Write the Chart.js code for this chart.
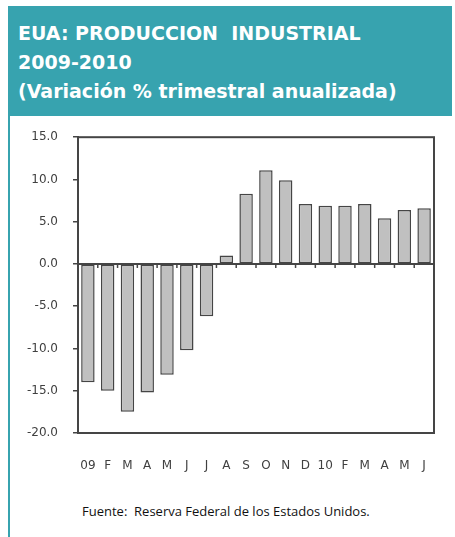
<!DOCTYPE html>
<html lang="es">
<head>
<meta charset="UTF-8">
<title>EUA: Produccion Industrial</title>
<script src="https://cdn.jsdelivr.net/npm/chart.js@4"></script>
<style>
  html, body {
    margin: 0;
    padding: 0;
    width: 455px;
    height: 537px;
    background: #fff;
    overflow: hidden;
  }
  .header {
    position: absolute;
    left: 8px;
    top: 6px;
    width: 444px;
    height: 110px;
    background: #37a3af;
  }
  .header div {
    position: absolute;
    left: 10px;
    color: #fff;
    font-family: "DejaVu Sans", sans-serif;
    font-weight: bold;
    font-size: 19px;
    white-space: pre;
  }
  .side {
    position: absolute;
    left: 8px;
    top: 116px;
    width: 2px;
    height: 421px;
    background: #37a3af;
  }
  .chart-box {
    position: absolute;
    left: 0;
    top: 115px;
    width: 455px;
    height: 375px;
  }
  .fuente {
    position: absolute;
    left: 82px;
    top: 502px;
    font-family: "Open Sans", sans-serif;
    font-size: 13px;
    color: #111;
    white-space: pre;
  }
</style>
</head>
<body>
<div class="header">
  <div style="top: 16px;">EUA: PRODUCCION  INDUSTRIAL</div>
  <div style="top: 45px;">2009-2010</div>
  <div style="top: 74px;">(Variación % trimestral anualizada)</div>
</div>
<div class="side"></div>
<div class="chart-box"><canvas id="chart"></canvas></div>
<div class="fuente">Fuente:  Reserva Federal de los Estados Unidos.</div>

<script>
// datos (variación % trimestral anualizada)
const meses = ['09', 'F', 'M', 'A', 'M', 'J', 'J', 'A', 'S', 'O', 'N', 'D', '10', 'F', 'M', 'A', 'M', 'J'];
const produccion = [-14.0, -15.0, -17.5, -15.2, -13.1, -10.2, -6.2, 1.0, 8.3, 11.1, 9.9, 7.1, 6.9, 6.9, 7.1, 5.4, 6.4, 6.6];
const ejeY = [-20, -15, -10, -5, 0, 5, 10, 15];

const lineColor = '#454545';

// marco del area de grafico y marcas sobre la linea del cero
const marcoPlugin = {
  id: 'marco',
  afterDatasetsDraw(chart) {
    const { ctx, chartArea: a, scales } = chart;
    const x = scales.x;
    const y0 = scales.y.getPixelForValue(0);
    ctx.save();
    ctx.strokeStyle = lineColor;
    ctx.lineWidth = 2;
    ctx.strokeRect(a.left, a.top, a.right - a.left, a.bottom - a.top);
    ctx.beginPath();
    ctx.moveTo(a.left, y0);
    ctx.lineTo(a.right, y0);
    ctx.stroke();
    ctx.lineWidth = 1.5;
    for (let i = 0; i < meses.length - 1; i++) {
      const xb = (x.getPixelForValue(i) + x.getPixelForValue(i + 1)) / 2;
      ctx.beginPath();
      ctx.moveTo(xb, y0);
      ctx.lineTo(xb, y0 + 4);
      ctx.stroke();
    }
    ctx.restore();
  }
};

new Chart(document.getElementById('chart'), {
  type: 'bar',
  data: {
    labels: meses,
    datasets: [{
      data: produccion,
      backgroundColor: '#c0c0c0',
      borderColor: lineColor,
      borderWidth: 1.5,
      borderSkipped: false,
      categoryPercentage: 1,
      barPercentage: 0.68
    }]
  },
  options: {
    responsive: true,
    maintainAspectRatio: false,
    animation: false,
    layout: { padding: { top: 8, right: 21, left: 0, bottom: 0 } },
    plugins: {
      legend: { display: false },
      tooltip: { enabled: false }
    },
    scales: {
      x: {
        grid: { display: false },
        border: { display: false },
        ticks: {
          padding: 18,
          maxRotation: 0,
          autoSkip: false,
          color: '#404040',
          font: { family: 'DejaVu Sans', size: 12 }
        },
        afterFit(scale) { scale.height = 57; }
      },
      y: {
        min: -20,
        max: 15,
        afterBuildTicks(scale) { scale.ticks = ejeY.map(v => ({ value: v })); },
        grid: {
          drawOnChartArea: false,
          tickLength: 5,
          tickColor: lineColor,
          lineWidth: 1.5
        },
        border: { display: true, color: lineColor, width: 2 },
        ticks: {
          padding: 15,
          color: '#404040',
          font: { family: 'DejaVu Sans', size: 12 },
          callback: v => Number(v).toFixed(1)
        },
        afterFit(scale) { scale.width = 78; }
      }
    }
  },
  plugins: [marcoPlugin]
});
</script>
</body>
</html>
